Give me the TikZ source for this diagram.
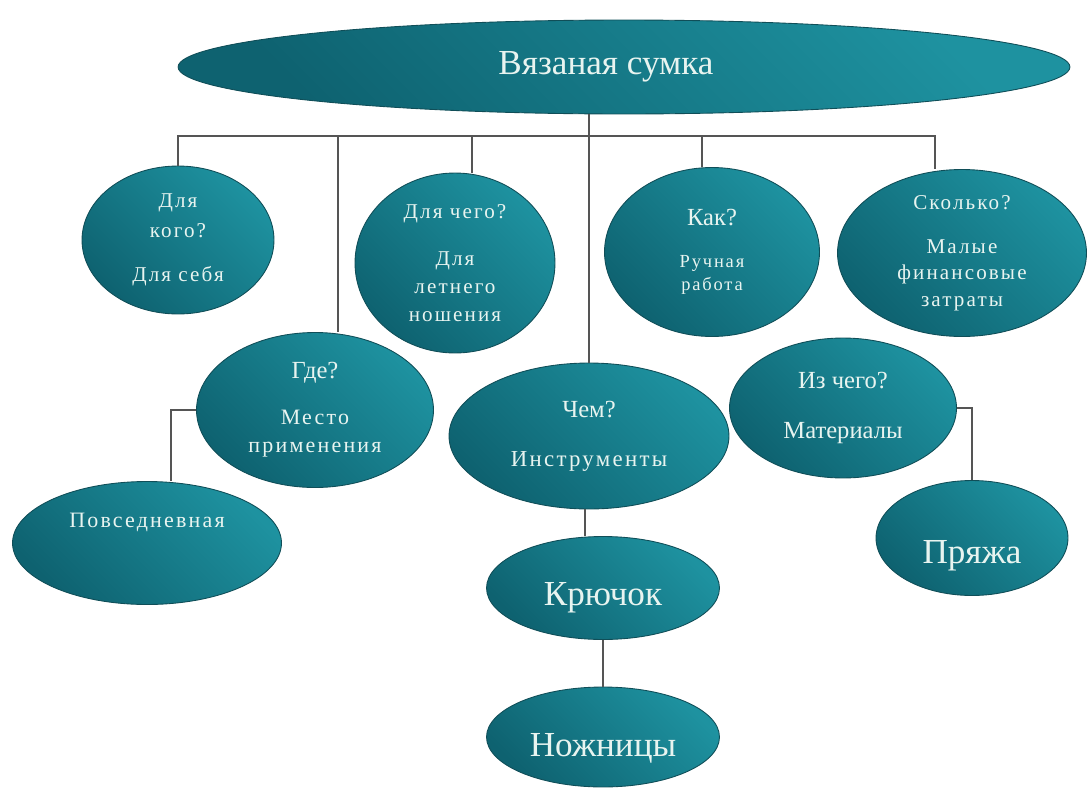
\documentclass[tikz,border=0pt]{standalone}
\usepackage{fontspec}
\setmainfont{Liberation Serif}
\newfontfamily\bagmono[LetterSpace=10]{Liberation Serif}
\usetikzlibrary{positioning,shapes.geometric}
\definecolor{BagTealLight}{RGB}{30,146,160}
\definecolor{BagTealDark}{RGB}{14,98,112}
\definecolor{BagEdge}{RGB}{16,78,88}
\definecolor{BagText}{RGB}{232,244,240}
\definecolor{BagLine}{RGB}{85,85,85}
\newcommand{\bagq}{\rmfamily\fontsize{14}{16}\selectfont}

\begin{document}
\begin{tikzpicture}[x=0.02cm, y=-0.02cm,
  bubble/.style={ellipse, draw=BagEdge, line width=0.5pt, top color=BagTealLight,
    bottom color=BagTealDark, shading angle=-45, text=BagText, align=center,
    inner sep=0pt, font=\bagmono\fontsize{12.5}{16}\selectfont},
  bigtext/.style={font=\rmfamily\fontsize{20}{24}\selectfont},
  link/.style={draw=BagLine, line width=0.6pt}]
  \useasboundingbox (0,0) rectangle (1089,788);

  % top
  \node[bubble, bigtext, minimum width=17.84cm, minimum height=1.88cm] (n0) at (624,67) {Вязаная сумка\hspace*{0.72cm}};
  \coordinate (bus) at (589,136);

  % first row
  \node[bubble, minimum width=3.84cm, minimum height=2.96cm, font=\bagmono\fontsize{12}{17}\selectfont] (n1) at (178,240) {Для\\кого?\\[8pt]Для себя};
  \node[bubble, minimum width=4.0cm, minimum height=3.6cm, font=\bagmono\fontsize{12}{16}\selectfont] (n3) at (455,263) {Для чего?\\[11pt]Для\\летнего\\ношения};
  \node[bubble, minimum width=4.3cm, minimum height=3.38cm, font=\bagmono\fontsize{10.5}{13}\selectfont] (n5) at (712,252) {{\bagq Как?}\\[11pt]Ручная\\работа};
  \node[bubble, minimum width=4.98cm, minimum height=3.34cm, font=\bagmono\fontsize{12}{15}\selectfont] (n7) at (962,253) {Сколько?\\[10pt]Малые\\финансовые\\затраты};

  % second row
  \node[bubble, minimum width=4.74cm, minimum height=3.1cm] (n2) at (315,410) {{\bagq Где?}\\[10pt]Место\\применения};
  \node[bubble, minimum width=5.6cm, minimum height=2.92cm, font=\bagmono\fontsize{13}{16}\selectfont] (n4) at (589,436) {{\bagq Чем?}\\[12pt]Инструменты};
  \node[bubble, minimum width=4.54cm, minimum height=2.8cm] (n6) at (843,408) {{\bagq Из чего?}\\[12pt]{\bagq Материалы}};

  % leaves
  \node[bubble, minimum width=5.38cm, minimum height=2.46cm] (n21) at (147,543) {Повседневная\\[10pt]\mbox{}};
  \node[bubble, bigtext, minimum width=4.66cm, minimum height=2.06cm] (n41) at (603,588) {\mbox{}\\Крючок};
  \node[bubble, bigtext, minimum width=4.66cm, minimum height=2.0cm] (n42) at (603,737) {\mbox{}\\[2pt]Ножницы};
  \node[bubble, bigtext, minimum width=3.84cm, minimum height=2.3cm] (n61) at (972,538) {\mbox{}\\[9pt]Пряжа};

  % connectors
  \draw[link] (bus |- n0.south) -- (n4.north);
  \draw[link] (bus) -| (n1);
  \draw[link] (bus) -| ([xshift=0.46cm]n2.north);
  \draw[link] (bus) -| ([xshift=0.34cm]n3.north);
  \draw[link] (bus) -| ([xshift=-0.2cm]n5.north);
  \draw[link] (bus) -| ([xshift=-0.54cm]n7.north);
  \draw[link] (n2.west) -| ([xshift=0.48cm]n21.north);
  \draw[link] (n6.east) -| (n61);
  \draw[link] ([xshift=-0.08cm]n4.south) -- ([xshift=-0.08cm]n4.south |- n41.north);
  \draw[link] (n41) -- (n42);
\end{tikzpicture}
\end{document}
